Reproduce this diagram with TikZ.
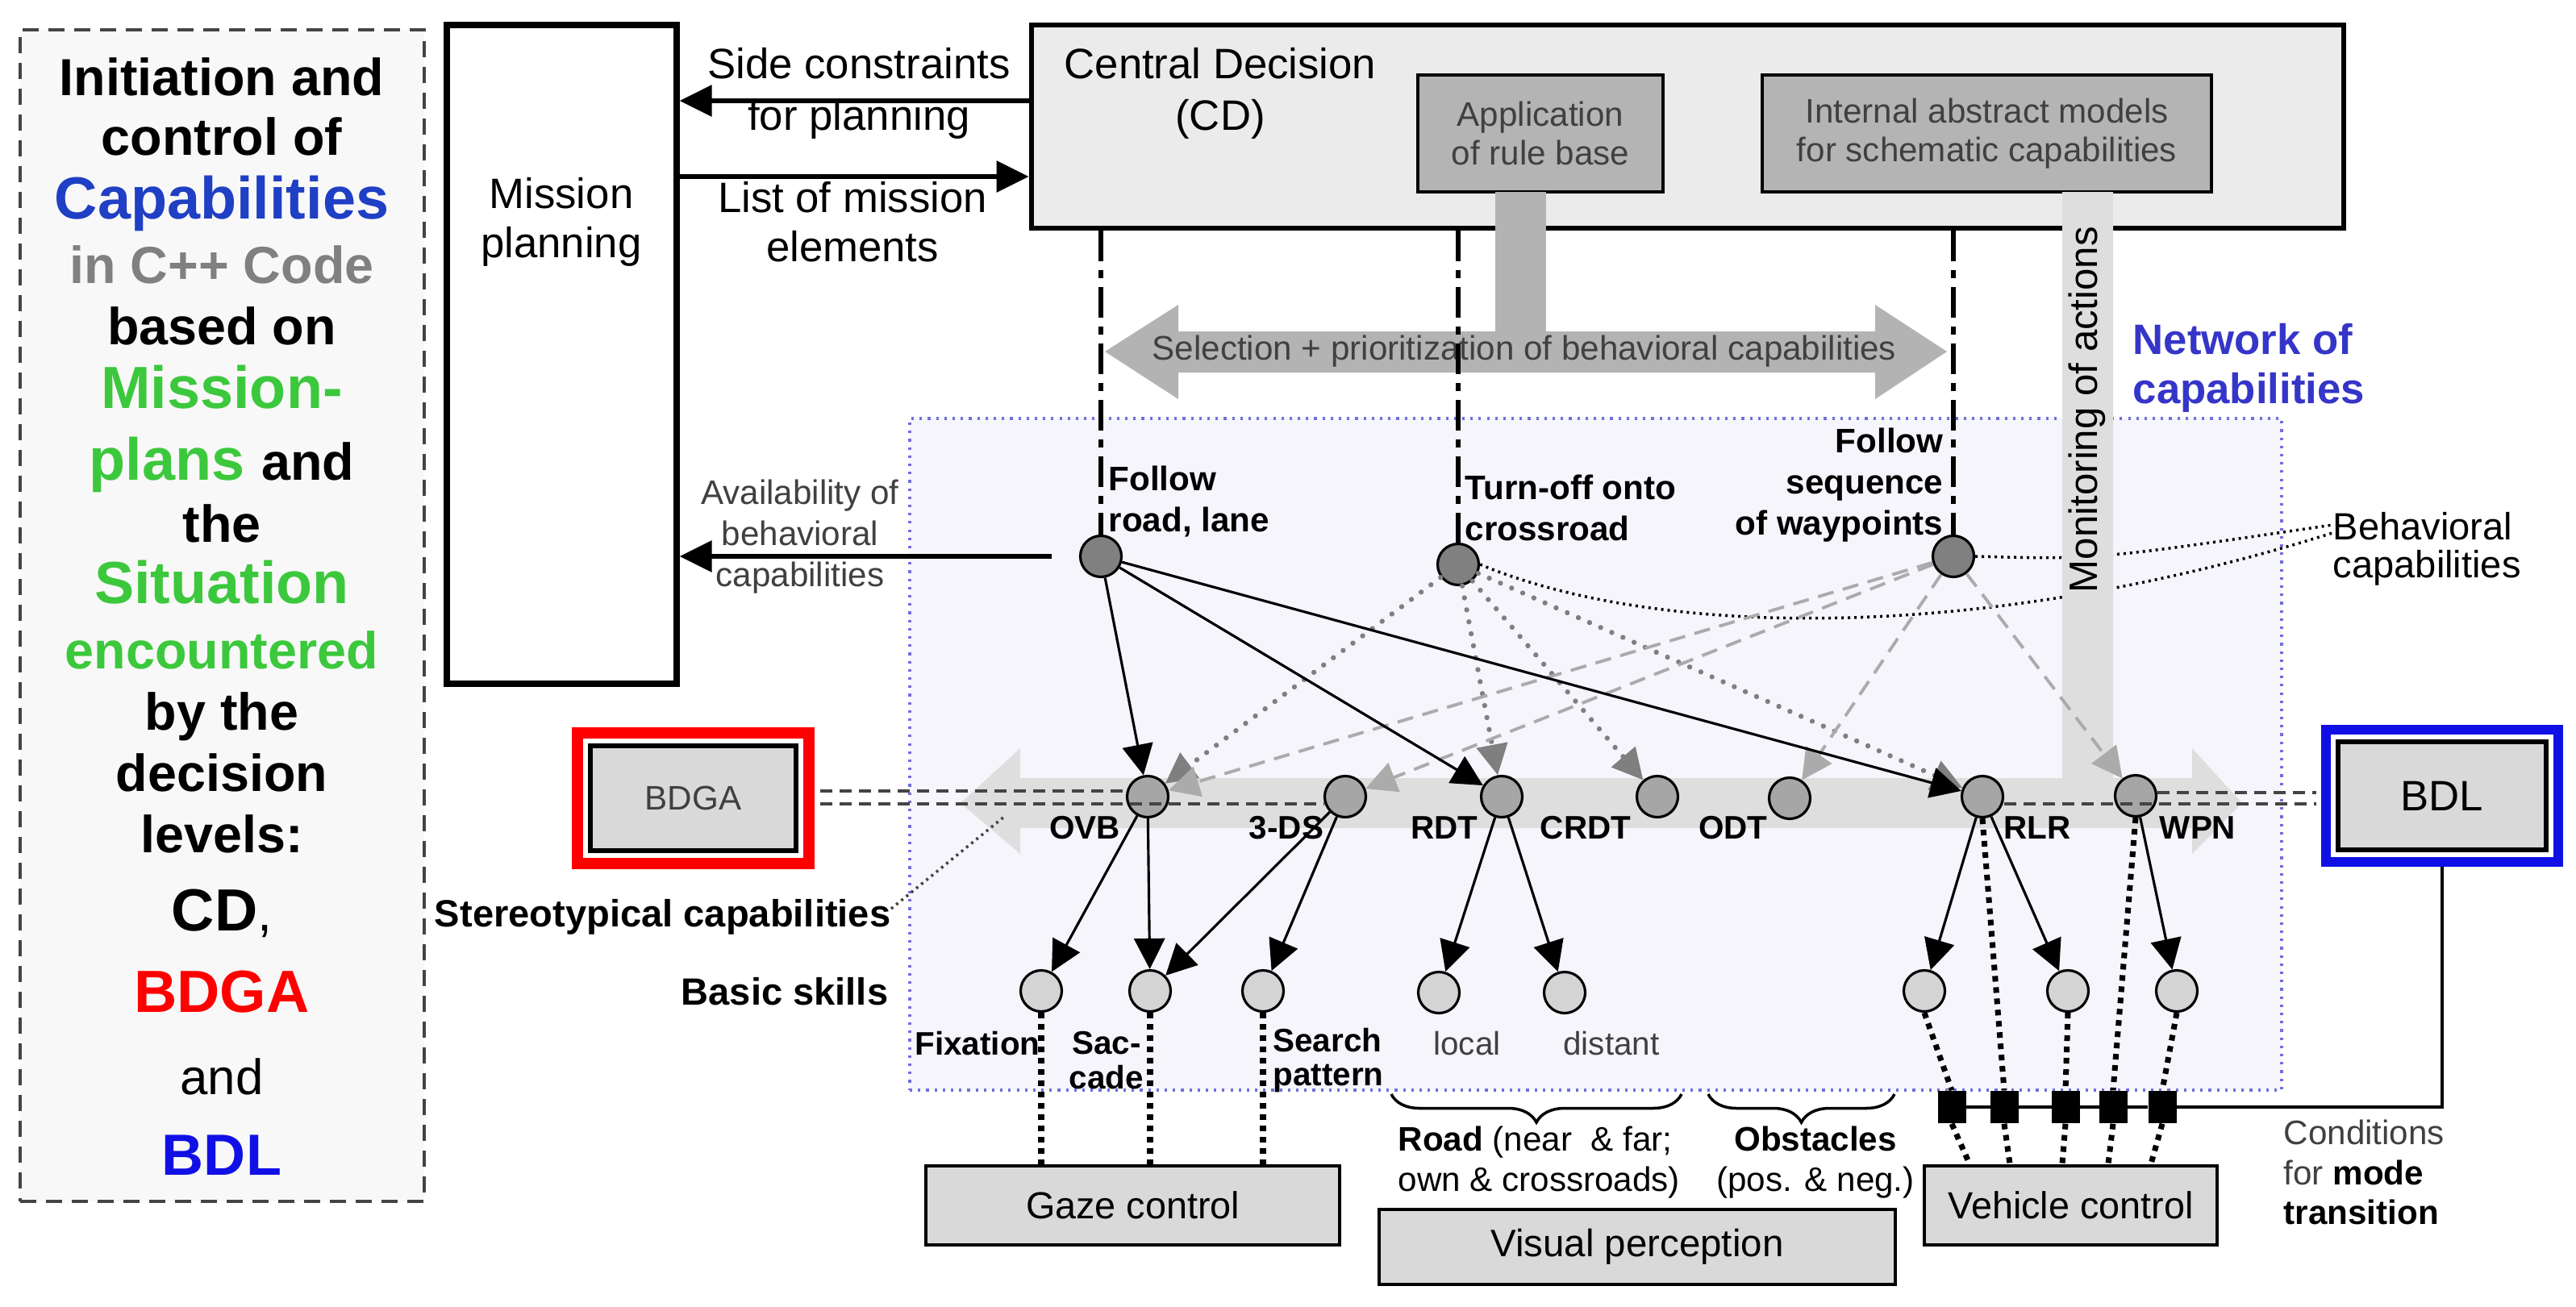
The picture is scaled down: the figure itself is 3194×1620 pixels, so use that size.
\documentclass[tikz,border=0pt]{standalone}
\usepackage{fontspec}
\setmainfont{Liberation Sans}
\usetikzlibrary{positioning}
\usetikzlibrary{fit}
\usetikzlibrary{arrows.meta}
\usetikzlibrary{calc}
\usetikzlibrary{decorations.pathreplacing}
\pgfdeclarelayer{bg}
\pgfsetlayers{bg,main}
\definecolor{capblue}{HTML}{1F3FC4}
\definecolor{bdlblue}{HTML}{1010E6}
\definecolor{netblue}{HTML}{3535C8}
\definecolor{netline}{HTML}{7070D8}
\definecolor{misgreen}{HTML}{3CC83C}
\definecolor{cppgray}{HTML}{808080}
\definecolor{txtgray}{HTML}{404040}
\definecolor{cdfill}{HTML}{EBEBEB}
\definecolor{boxfill}{HTML}{D9D9D9}
\definecolor{rulefill}{HTML}{B4B4B4}
\definecolor{selgray}{HTML}{B3B3B3}
\definecolor{bargray}{HTML}{DEDEDE}
\definecolor{netfill}{HTML}{F5F5FB}
\definecolor{initfill}{HTML}{F8F8F8}
\definecolor{dotgray}{HTML}{7F7F7F}
\definecolor{dashgray}{HTML}{ABABAB}
\definecolor{linkgray}{HTML}{444444}
\definecolor{hifill}{HTML}{808080}
\definecolor{stfill}{HTML}{A6A6A6}
\definecolor{skfill}{HTML}{D4D4D4}
\newcommand\setfs[2]{\fontsize{#1}{#2}\selectfont}
\tikzset{>={Triangle[length=3.8mm,width=3.8mm]}}
\tikzset{vert/.style={draw,circle,minimum size=5.1mm,inner sep=0pt,line width=0.9pt}}
\tikzset{hicap/.style={vert,fill=hifill}}
\tikzset{stcap/.style={vert,fill=stfill}}
\tikzset{skill/.style={vert,fill=skfill}}
\tikzset{blk/.style={draw,line width=1.4pt,fill=boxfill,inner sep=0pt}}
\tikzset{ed/.style={inner sep=0pt,font=\setfs{11.5}{12}\bfseries}}
\tikzset{lbl/.style={inner sep=0pt,align=center,font=\setfs{15}{17.4}}}
\tikzset{arr/.style={->,line width=0.9pt}}
\tikzset{bigarr/.style={-{Triangle[length=4mm,width=3.8mm]},line width=1.7pt}}
\tikzset{dotarr/.style={->,dotgray,line width=1.8pt,line cap=round,dash pattern=on 0.01mm off 1.5mm}}
\tikzset{dasharr/.style={->,dashgray,line width=1.1pt,dash pattern=on 2mm off 1.2mm}}
\tikzset{heavydot/.style={line width=2pt,dash pattern=on 0.7mm off 0.7mm}}
\tikzset{finedot/.style={line width=1pt,dash pattern=on 0.3mm off 0.5mm}}
\tikzset{ddash/.style={linkgray,line width=1.1pt,dash pattern=on 1.5mm off 0.9mm}}
\tikzset{dashdot/.style={line width=1.6pt,dash pattern=on 3.8mm off 1.1mm on 1mm off 1.1mm}}
\begin{document}
\begin{tikzpicture}[x=0.1mm,y=-0.1mm]
\begin{pgfonlayer}{bg}
\fill[white] (0,0) rectangle (3194,1620);
\end{pgfonlayer}
\useasboundingbox (0,0) rectangle (3194,1620);

% decision levels
\node (initbox) [draw=linkgray,line width=1.1pt,dash pattern=on 2mm off 1.2mm,fill=initfill,minimum width=50.1mm,minimum height=145.3mm] at (275.5,763.5) {};
\foreach \y/\txt in {94/{Initiation and},168/{control of},
  247/{\setfs{21}{24}\color{capblue}Capabilities},327/{\color{cppgray}in C++ Code},
  403/{based on},482/{\setfs{21}{24}\color{misgreen}Mission-},
  571/{\setfs{21}{24}\textcolor{misgreen}{plans} \setfs{18.4}{21}and},648/{the},
  724/{\setfs{21}{24}\color{misgreen}Situation},805/{\color{misgreen}encountered},
  881/{by the},957/{decision},1033/{levels:},
  1130/{\setfs{21}{24}CD\setfs{18.4}{21}\mdseries,},
  1231/{\setfs{21}{24}\color{red}BDGA},1333/{\setfs{17.6}{20}\mdseries and},
  1433/{\setfs{20.5}{24}\color{bdlblue}BDL}}
  \node (init\y) [anchor=base,inner sep=0pt,font=\setfs{18.4}{21}\bfseries] at (275,\y+24) {\txt};

% planning and central decision
\node (mp) [draw,line width=2pt,fill=white,minimum width=28.5mm,minimum height=81.7mm] at (696.5,439.5) {};
\node (mplabel) [lbl] at (696,275) {Mission\\planning};
\node (cd) [draw,line width=1.9pt,fill=cdfill,minimum width=162.7mm,minimum height=25.2mm] at (2092.5,157) {};
\node (cdlabel) [lbl,font=\setfs{15}{18.2}] at (1513,116) {Central Decision\\(CD)};
\node (app) [draw,line width=1.3pt,fill=rulefill,minimum width=30.4mm,minimum height=14.5mm,align=center,text=txtgray,font=\setfs{12}{13.7}] at (1910,165.5) {Application\\of rule base};
\node (iam) [draw,line width=1.3pt,fill=rulefill,minimum width=55.7mm,minimum height=14.5mm,align=center,text=txtgray,font=\setfs{12}{13.7}] at (2463.5,165.5) {Internal abstract models\\for schematic capabilities};
\node (sclabel) [lbl,font=\setfs{15}{18.2}] at (1065,116) {Side constraints\\for planning};
\node (lmlabel) [lbl] at (1057,275.5) {List of mission\\elements};
\draw[bigarr] (cd.west |- 0,125) -- (mp.east |- 0,125);
\draw[bigarr] (mp.east |- 0,219) -- (cd.west |- 0,219);

% network of capabilities
\begin{pgfonlayer}{bg}
\node (net) [draw=netline,dotted,line width=0.9pt,fill=netfill,minimum width=170.1mm,minimum height=83.3mm,inner sep=0pt] at (1978.5,935.5) {};
\end{pgfonlayer}
\node (netlabel) [anchor=west,inner sep=0pt,align=left,text=netblue,font=\setfs{15}{17.4}\bfseries] at (2644,456) {Network of\\capabilities};

\fill[selgray] (1370,436) -- (1461,378) -- (1461,411) -- (2325,411) -- (2325,378) -- (2414,436)
  -- (2325,495) -- (2325,462) -- (1461,462) -- (1461,495) -- cycle;
\fill[selgray] (1854,238) rectangle (1917,412);
\node (seltext) [text=txtgray,font=\setfs{12}{14}] at (1890,436) {Selection + prioritization of behavioral capabilities};

\fill[bargray] (1191,996) -- (1265,928) -- (1265,965) -- (2557,965) -- (2557,238) -- (2620,238)
  -- (2620,965) -- (2718,965) -- (2718,928) -- (2780,996) -- (2718,1059) -- (2718,1027)
  -- (1265,1027) -- (1265,1059) -- cycle;
\node (monlabel) [rotate=90,font=\setfs{14}{16}] at (2588,508) {Monitoring of actions};

% capabilities
\node (fr) [hicap] at (1365,690) {};
\node (to) [hicap] at (1808,700) {};
\node (fs) [hicap] at (2422,690) {};
\node (ovb) [stcap] at (1423,988) {};
\node (tds) [stcap] at (1668,988) {};
\node (rdt) [stcap] at (1862,988) {};
\node (crdt) [stcap] at (2055,988) {};
\node (odt) [stcap] at (2219,990) {};
\node (rlr) [stcap] at (2458,988) {};
\node (wpn) [stcap] at (2648,987) {};
\node (fix) [skill] at (1291,1229) {};
\node (sac) [skill] at (1426,1229) {};
\node (srch) [skill] at (1566,1229) {};
\node (loc) [skill] at (1784,1231) {};
\node (dist) [skill] at (1940,1231) {};
\node (vc1) [skill] at (2386,1229) {};
\node (vc2) [skill] at (2564,1229) {};
\node (vc3) [skill] at (2699,1229) {};

\node (frlabel) [anchor=west,inner sep=0pt,align=left,font=\setfs{12}{14.5}\bfseries] at (1374,622) {Follow\\road, lane};
\node (tolabel) [anchor=west,inner sep=0pt,align=left,font=\setfs{12}{14.5}\bfseries] at (1816,630) {Turn-off onto\\crossroad};
\node (fslabel) [anchor=east,inner sep=0pt,align=right,font=\setfs{12}{14.5}\bfseries] at (2410,602) {Follow\\sequence\\of waypoints};

\node[ed] at (1345,1027) {OVB};
\node[ed] at (1595,1027) {3-DS};
\node[ed] at (1791,1027) {RDT};
\node[ed] at (1966,1027) {CRDT};
\node[ed] at (2149,1027) {ODT};
\node[ed] at (2526,1027) {RLR};
\node[ed] at (2725,1027) {WPN};
\node[ed] at (1212,1294) {Fixation};
\node[ed,align=center] at (1372,1315) {Sac-\\cade};
\node[ed,align=left] at (1647,1315) {Search\\pattern};
\node[ed,font=\setfs{11.5}{12},text=txtgray] at (1819,1294) {local};
\node[ed,font=\setfs{11.5}{12},text=txtgray] at (1998,1294) {distant};

\node (stlabel) [anchor=east,inner sep=0pt,font=\setfs{13.4}{15}\bfseries] at (1105,1137) {Stereotypical capabilities};
\node (bslabel) [anchor=east,inner sep=0pt,font=\setfs{13.4}{15}\bfseries] at (1102,1230) {Basic skills};
\node (beh) [anchor=west,inner sep=0pt,align=left,font=\setfs{13.4}{13.5}] at (2892,681) {Behavioral\\capabilities};
\node (avlabel) [inner sep=0pt,align=center,text=txtgray,font=\setfs{12}{14.5}] at (992,666) {Availability of\\behavioral\\capabilities};
\coordinate (lefttip) at (1245,1013);
\draw[finedot,linkgray] ([yshift=1mm]stlabel.east) -- (lefttip);

\begin{pgfonlayer}{bg}
\draw[finedot] (fs.east) .. controls (2600,694) .. ([yshift=3mm]beh.west);
\draw[finedot] (to.east) .. controls (2050,790) and (2450,800) .. ([yshift=2mm]beh.west);
\end{pgfonlayer}

\draw[dashdot] (fr.north |- cd.south) -- (fr.north);
\draw[dashdot] (to.north |- cd.south) -- (to.north);
\draw[dashdot] (fs.north |- cd.south) -- (fs.north);
\draw[bigarr,shorten <=3.4mm] (fr.west) -- (mp.east |- fr.west);

\draw[dotarr] (to) -- (ovb);
\draw[dotarr] (to) -- (rdt);
\draw[dotarr] (to) -- (crdt);
\draw[dotarr] (to) -- (rlr);
\draw[dasharr] (fs) -- (ovb);
\draw[dasharr] (fs) -- (tds);
\draw[dasharr] (fs) -- (odt);
\draw[dasharr] (fs) -- (wpn);
\draw[arr] (fr) -- (ovb);
\draw[arr] (fr) -- (rdt);
\draw[arr] (fr) -- (rlr);
\draw[arr] (ovb) -- (fix);
\draw[arr] (ovb) -- (sac);
\draw[arr] (tds) -- (sac);
\draw[arr] (tds) -- (srch);
\draw[arr] (rdt) -- (loc);
\draw[arr] (rdt) -- (dist);
\draw[arr] (rlr) -- (vc1);
\draw[arr] (rlr) -- (vc2);
\draw[arr] (wpn) -- (vc3);

% decision levels BDGA and BDL
\node (bdga) [blk,line width=1.6pt,minimum width=25.5mm,minimum height=13mm,text=txtgray,font=\setfs{12}{14}] at (859.5,990) {BDGA};
\node (bdgaframe) [draw=red,line width=1.4mm,inner sep=1.3mm,fit=(bdga)] {};
\node (bdl) [blk,line width=1.6pt,minimum width=25.8mm,minimum height=13.4mm,font=\setfs{15}{17}] at (3028,987) {BDL};
\node (bdlframe) [draw=bdlblue,line width=1.2mm,inner sep=1.2mm,fit=(bdl)] {};
\draw[ddash,shorten <=0.7mm] (bdgaframe.east |- 0,981) -- (ovb.west |- 0,981);
\draw[ddash,shorten <=0.7mm] (bdgaframe.east |- 0,997) -- (tds.west |- 0,997);
\draw[ddash,shorten >=0.6mm] (wpn.east |- 0,983) -- (bdlframe.west |- 0,983);
\draw[ddash,shorten >=0.6mm] (rlr.east |- 0,997) -- (bdlframe.west |- 0,997);

% control boxes
\node (gaze) [blk,minimum width=51.3mm,minimum height=9.8mm,font=\setfs{13.3}{15}] at (1404.5,1495) {Gaze control};
\node (veh) [blk,minimum width=36.3mm,minimum height=9.8mm,font=\setfs{13.3}{15}] at (2567.5,1495) {Vehicle control};
\node (vis) [blk,minimum width=64mm,minimum height=9.3mm,font=\setfs{13.5}{15}] at (2030,1546.5) {Visual perception};

\draw[heavydot] (fix.south) -- (fix.south |- gaze.north);
\draw[heavydot] (sac.south) -- (sac.south |- gaze.north);
\draw[heavydot] (srch.south) -- (srch.south |- gaze.north);

\foreach \x [count=\i] in {2420,2485,2561,2620,2681}
  \node (sq\i) [fill,minimum width=3.5mm,minimum height=4mm,inner sep=0pt] at (\x,1373) {};
\draw[line width=1.3pt] (sq1) -- (sq5);
\draw[line width=1.3pt] (sq5.east) -| (bdlframe.south);
\draw[heavydot] (vc1.south) -- (sq1.north);
\draw[heavydot] (rlr.south) -- (sq2.north);
\draw[heavydot] (vc2.south) -- (sq3.north);
\draw[heavydot] (wpn.south) -- (sq4.north);
\draw[heavydot] (vc3.south) -- (sq5.north);
\foreach \i/\x in {1/2442,2/2492,3/2557,4/2614,5/2667}
  \draw[heavydot] (sq\i.south) -- (\x,0 |- veh.north);

\draw[decorate,decoration={brace,mirror,amplitude=3.5mm},line width=1pt] (1725,1357) -- (2085,1357);
\draw[decorate,decoration={brace,mirror,amplitude=3.5mm},line width=1pt] (2118,1357) -- (2349,1357);
\node (roadlabel) [anchor=west,inner sep=0pt,align=left,font=\setfs{12}{14.2}] at (1733,1442) {\textbf{Road} (near\ \ \& far;\\own \& crossroads)};
\node (obslabel) [inner sep=0pt,align=center,font=\setfs{12}{14.2}] at (2251,1442) {\textbf{Obstacles}\\(pos. \& neg.)};
\node (condlabel) [anchor=west,inner sep=0pt,align=left,text=txtgray,font=\setfs{12}{14.2}] at (2831,1454) {Conditions\\for \textcolor{black}{\textbf{mode}}\\\textcolor{black}{\textbf{transition}}};
\end{tikzpicture}
\end{document}
